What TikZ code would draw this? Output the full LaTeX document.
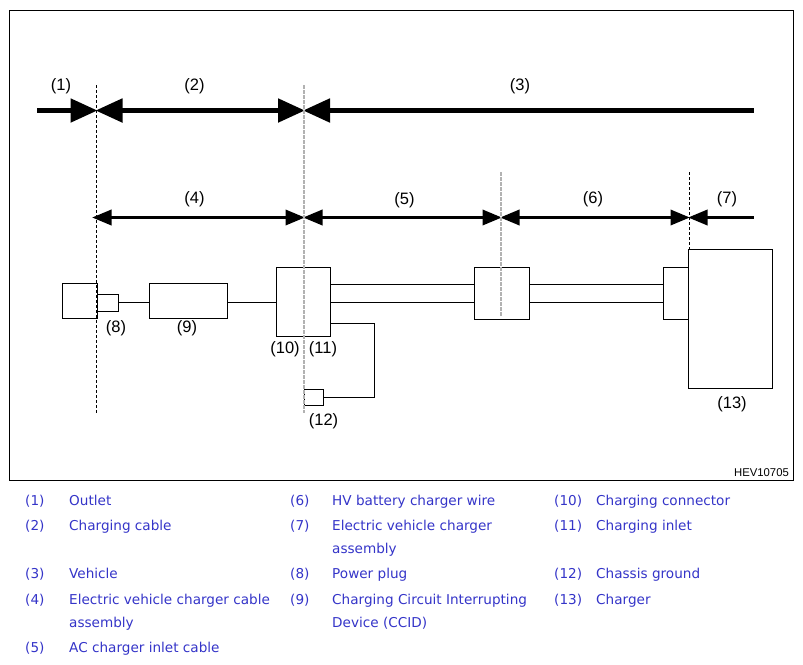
\documentclass[tikz,border=0pt]{standalone}
\usepackage{fontspec}
\setmainfont{Liberation Sans}
\newfontfamily\legendfont{DejaVu Sans}
\usetikzlibrary{arrows.meta,positioning,calc}
\definecolor{legendblue}{HTML}{3434C8}
\tikzset{
  bigtip/.tip={Triangle[length=27pt,width=23pt,sep=-1pt]},
  smalltip/.tip={Triangle[length=19.5pt,width=15pt,sep=-1pt]},
  unitbox/.style={draw,line width=1pt,inner sep=0pt,outer sep=0pt},
  wire/.style={line width=1pt},
  cut/.style={line width=1pt,dash pattern=on 3pt off 2pt},
  cutgray/.style={line width=1.2pt,dash pattern=on 3.5pt off 1.5pt,black!30},
  busbig/.style={line width=5pt},
  bussmall/.style={line width=3.5pt},
  tag/.style={font=\fontsize{16.5}{18}\selectfont,inner sep=0pt},
  legend/.style={font=\legendfont\fontsize{13.6}{16}\selectfont,text=legendblue,inner sep=0pt,anchor=base west},
}
\begin{document}
\begin{tikzpicture}[x=1pt,y=-1pt]
\useasboundingbox (0,0) rectangle (803,664);
\node[draw,line width=1pt,inner sep=0pt,minimum width=784pt,minimum height=470.5pt] (frame) at (401.5,245.25) {};
\node[font=\fontsize{11.3}{12}\selectfont,inner sep=0pt] (code) at (761.5,472.5) {HEV10705};
% cut points on the two lengths
\coordinate (a0) at (37,110.5);
\coordinate (a1) at (96.5,110.5);
\coordinate (a2) at (304,110.5);
\coordinate (a3) at (754,110.5);
\coordinate (b1) at (93,217.5);
\coordinate (b2) at (304,217.5);
\coordinate (b3) at (501,217.5);
\coordinate (b4) at (689,217.5);
\coordinate (b5) at (754,217.5);
% boxes
\node[unitbox,minimum width=35pt,minimum height=35pt] (outlet) at (79.5,300.5) {};
\node[unitbox,minimum width=21pt,minimum height=17pt] (plug) at (107.5,302.5) {};
\node[unitbox,minimum width=78pt,minimum height=35pt] (ccid) at (188,300.5) {};
\node[unitbox,minimum width=54pt,minimum height=69pt] (conn) at (303,301.5) {};
\node[unitbox,minimum width=55pt,minimum height=52pt] (joint) at (501.5,293) {};
\node[unitbox,minimum width=25pt,minimum height=52pt] (inlet) at (675.5,293) {};
\node[unitbox,minimum width=84pt,minimum height=139pt] (charger) at (730,318.5) {};
\node[unitbox,minimum width=19pt,minimum height=16pt] (ground) at (313.5,397) {};
% wires
\coordinate (hi) at (0,284.5);
\coordinate (lo) at (0,302.5);
\coordinate (gnd) at (0,323);
\draw[wire] (plug.east) -- (ccid.west |- plug.east);
\draw[wire] (ccid.east |- plug.east) -- (conn.west |- plug.east);
\draw[wire] (conn.east |- hi) -- (joint.west |- hi);
\draw[wire] (conn.east |- lo) -- (joint.west |- lo);
\draw[wire] (joint.east |- hi) -- (inlet.west |- hi);
\draw[wire] (joint.east |- lo) -- (inlet.west |- lo);
\draw[wire] (conn.east |- gnd) -- ++(44,0) |- (ground.east);
% lengths
\draw[busbig,-bigtip] (a0) -- (a1);
\draw[busbig,bigtip-bigtip] (a1) -- (a2);
\draw[busbig,bigtip-] (a2) -- (a3);
\draw[bussmall,smalltip-smalltip] (b1) -- (b2);
\draw[bussmall,smalltip-smalltip] (b2) -- (b3);
\draw[bussmall,smalltip-smalltip] (b3) -- (b4);
\draw[bussmall,smalltip-] (b4) -- (b5);
% cut lines
\coordinate (c1) at (96.5,85);
\coordinate (d1) at (96.5,414);
\coordinate (c2) at (304,85);
\coordinate (d2) at (304,413);
\coordinate (c3) at (501,172);
\coordinate (d3) at (501,317);
\coordinate (c4) at (689,172);
\coordinate (d4) at (689,249);
\draw[cut] (c1) -- (d1);
\draw[cutgray] (c2) -- (d2);
\draw[cutgray] (c3) -- (d3);
\draw[cut] (c4) -- (d4);
% tags
\foreach \tx/\ty/\tn in {61/86.5/1,194.5/86.5/2,520/86.5/3,194.5/199.5/4,404.5/200.5/5,593/199.5/6,727/199.5/7,116/328.5/8,187/328/9,285/349/10,323/349/11,323.5/421.5/12,732/404.5/13}
  \node[tag] (tag\tn) at (\tx,\ty) {(\tn)};
% legend
\foreach \lx/\ly/\ln in {25/505/1,25/530/2,25/578/3,25/604/4,25/652/5,290/505/6,290/530/7,290/578/8,290/604/9,554/505/10,554/530/11,554/578/12,554/604/13}
  \node[legend] (num\ln) at (\lx,\ly) {(\ln)};
\foreach \lx/\ly/\lt in {69/505/Outlet,69/530/Charging cable,69/578/Vehicle,69/604/Electric vehicle charger cable,69/627/assembly,69/652/AC charger inlet cable,
  332/505/HV battery charger wire,332/530/Electric vehicle charger,332/553/assembly,332/578/Power plug,332/604/Charging Circuit Interrupting,332/627/Device (CCID),
  596/505/Charging connector,596/530/Charging inlet,596/578/Chassis ground,596/604/Charger}
  \node[legend] at (\lx,\ly) {\lt};
\end{tikzpicture}
\end{document}
